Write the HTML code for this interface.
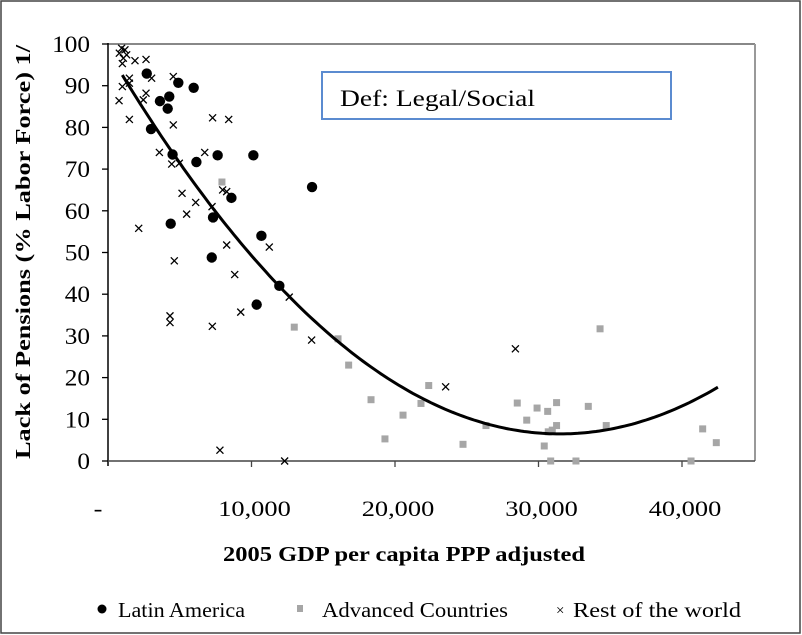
<!DOCTYPE html>
<html><head><meta charset="utf-8"><style>
html,body{margin:0;padding:0;background:#fff;}
svg{display:block;font-family:"Liberation Serif",serif;}
</style></head><body>
<svg id="chart" width="802" height="635" viewBox="0 0 802 635">
<rect x="1" y="1" width="799" height="632" fill="#fff" stroke="#444" stroke-width="1.5"/>
<g id="plot"></g>
<rect x="322" y="72" width="349" height="47" fill="#fff" stroke="#5b8bd0" stroke-width="2"/>
<text x="340" y="106" font-size="23" textLength="195" lengthAdjust="spacingAndGlyphs">Def: Legal/Social</text>
<text transform="translate(30,252) rotate(-90)" text-anchor="middle" font-size="21" font-weight="bold" textLength="414" lengthAdjust="spacingAndGlyphs">Lack of Pensions (% Labor Force) 1/</text>
<text x="404" y="561" text-anchor="middle" font-size="21" font-weight="bold" textLength="362" lengthAdjust="spacingAndGlyphs">2005 GDP per capita PPP adjusted</text>
<g font-size="21">
<circle cx="102" cy="609" r="4.5" fill="#000"/>
<text x="118" y="617" textLength="127" lengthAdjust="spacingAndGlyphs">Latin America</text>
<rect x="297" y="605" width="6" height="7" fill="#a6a6a6"/>
<text x="322" y="617" textLength="186" lengthAdjust="spacingAndGlyphs">Advanced Countries</text>
<text x="556" y="615" font-size="15">×</text>
<text x="573" y="617" textLength="168" lengthAdjust="spacingAndGlyphs">Rest of the world</text>
</g>
</svg>
<script>
const latamX=[2700,4900,5970,4270,3620,4160,3000,4500,7640,10130,6160,8600,7320,4370,10690,7230,11940,10360,14220];
const latamY=[92.9,90.7,89.5,87.4,86.3,84.5,79.6,73.5,73.3,73.3,71.7,63.1,58.4,56.9,54.0,48.8,42.0,37.5,65.7];
const advX=[12980,16030,16770,18330,19300,20560,21810,22350,24740,26340,28520,29180,29900,30640,31260,30400,30680,30960,31260,30850,32610,33470,34290,34720,40630,41440,42390,7940];
const advY=[32.1,29.3,23.0,14.7,5.3,11.0,13.8,18.1,4.0,8.5,13.9,9.8,12.7,11.9,14.0,3.6,7.0,7.4,8.5,0,0,13.1,31.7,8.5,0,7.7,4.4,66.9];
const restX=[950,1180,790,1070,1300,1880,2650,1000,1490,3040,4550,1490,1000,2650,2460,770,1490,4550,7290,8410,3580,6740,4440,4970,7990,8270,5160,6110,7250,5480,2140,8270,11240,4620,8830,12630,9250,4320,4320,7270,14190,7800,12310,23530,28390];
const restY=[99,98.6,97.8,96.6,97.4,96,96.3,95.3,91.8,91.8,92.2,90.6,89.8,88.2,86.6,86.4,81.9,80.6,82.3,81.9,74.0,74.0,71.2,71.4,65.0,64.6,64.2,62.0,61.0,59.2,55.8,51.8,51.3,48.0,44.7,39.3,35.7,34.8,33.2,32.3,29.0,2.6,0,17.8,26.9];
const yTicks=[0,10,20,30,40,50,60,70,80,90,100];
const xTickLabels=["-","10,000","20,000","30,000","40,000"];
const xTickVals=[0,10000,20000,30000,40000];
const trendCoef=[0.0925,31500,6.5];
const trendRange=[1000,42500];

const NS="http://www.w3.org/2000/svg";
const plot=document.getElementById('plot');
const X0=108,XR=755,Y0=461,YT=44;
const sx=v=>X0+v/10000*143.5;
const sy=v=>Y0-v*(Y0-YT)/100;
function mk(t,a){const e=document.createElementNS(NS,t);for(const k in a)e.setAttribute(k,a[k]);plot.appendChild(e);return e;}

let e=mk('line',{x1:X0,y1:YT,x2:XR,y2:YT,stroke:'#888','stroke-width':2});


e=mk('line',{x1:XR,y1:YT,x2:XR,y2:Y0,stroke:'#999','stroke-width':2});


e=mk('line',{x1:X0,y1:YT-1,x2:X0,y2:Y0+5,stroke:'#000','stroke-width':1.5});


e=mk('line',{x1:X0,y1:Y0,x2:XR,y2:Y0,stroke:'#444','stroke-width':1.5});



yTicks.forEach(v=>{
 const t=mk('line',{x1:X0-6,y1:sy(v),x2:X0,y2:sy(v),stroke:'#000','stroke-width':1.3});
 
 
 const l=mk('text',{x:90,y:sy(v)+8,'text-anchor':'end','font-size':23,transform:`translate(90,0) scale(1.1,1) translate(-90,0)`});
 l.textContent=v;
 
 
});
xTickVals.forEach((v,i)=>{
 if(v>0&&sx(v)<XR){const t=mk('line',{x1:sx(v),y1:Y0,x2:sx(v),y2:Y0+6,stroke:'#444','stroke-width':1.3});
 
 }
 const cx=v===0?sx(v)-10:sx(v)+3;
 const l=mk('text',{x:cx,y:516,'text-anchor':'middle','font-size':22,transform:`translate(${cx},0) scale(1.2,1) translate(${-cx},0)`});
 l.textContent=xTickLabels[i];
 
 
});

advX.forEach((x,i)=>{
 const r=mk('rect',{x:sx(x)-3.5,y:sy(advY[i])-3.5,width:7,height:7,fill:'#a6a6a6'});
 
 
});
restX.forEach((x,i)=>{
 const cx=sx(x),cy=sy(restY[i]),d=3.5;
 const p=mk('path',{d:`M${cx-d},${cy-d}L${cx+d},${cy+d}M${cx-d},${cy+d}L${cx+d},${cy-d}`,stroke:'#000','stroke-width':1.3,fill:'none'});
 
 
});
latamX.forEach((x,i)=>{
 const c=mk('circle',{cx:sx(x),cy:sy(latamY[i]),r:5.2,fill:'#000'});
 
 
});
let d='';
for(let x=trendRange[0];x<=trendRange[1];x+=250){
 const k=(x-trendCoef[1])/1000;
 const y=trendCoef[0]*k*k+trendCoef[2];
 d+=(d?'L':'M')+sx(x).toFixed(1)+','+sy(y).toFixed(1);
}
e=mk('path',{d:d,stroke:'#000','stroke-width':3,fill:'none'});


</script>
</body></html>
